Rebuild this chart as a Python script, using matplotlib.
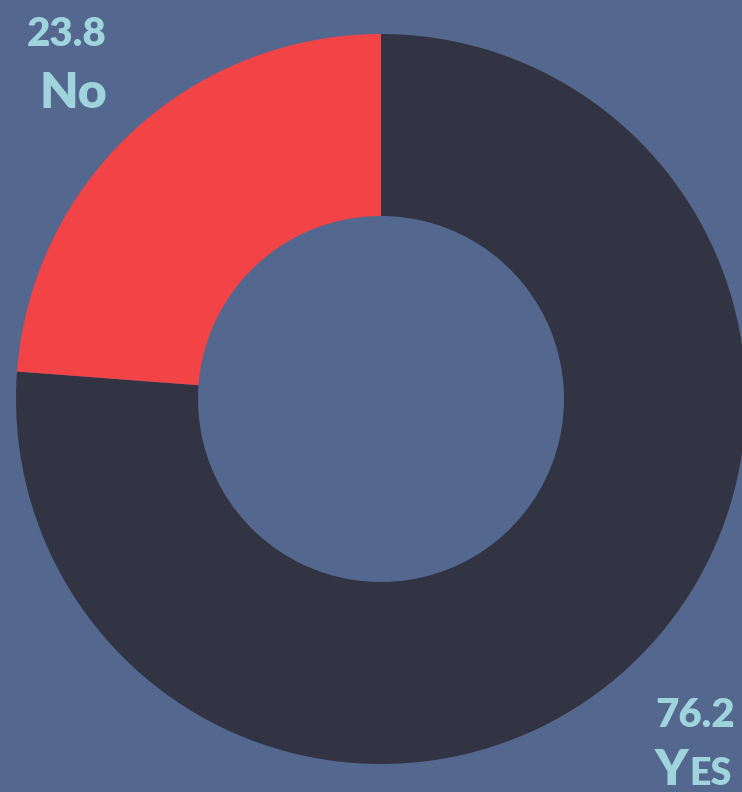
import matplotlib
matplotlib.use("Agg")
import matplotlib.pyplot as plt

# data
labels = ["Yes", "No"]
values = [76.2, 23.8]
colors = ["#323443", "#f24446"]

bg = "#54678f"
txt = "#9fd4dc"

W, H = 742, 792
fig = plt.figure(figsize=(W / 100, H / 100), dpi=100, facecolor=bg)
ax = fig.add_axes([0, 0, 1, 1])
ax.set_facecolor(bg)

ax.pie(values, colors=colors, startangle=90, counterclock=False,
       center=(381, H - 399), radius=365,
       wedgeprops=dict(width=182, linewidth=0), frame=True)
ax.set_xlim(0, W)
ax.set_ylim(0, H)
ax.axis("off")

font = dict(family=["Lato", "DejaVu Sans"], weight="heavy", color=txt)

# No label (top left)
ax.text(107, H - 46, f"{values[1]}", ha="right", va="baseline", fontsize=29, **font)
ax.text(107, H - 108, labels[1], ha="right", va="baseline", fontsize=36, **font)

# Yes label (bottom right), small caps
ax.text(655, H - 727, f"{values[0]}", ha="left", va="baseline", fontsize=29, **font)
t1 = ax.text(655, H - 785, labels[0][0], ha="left", va="baseline", fontsize=36, **font)
fig.canvas.draw()
bb = t1.get_window_extent(renderer=fig.canvas.get_renderer())
ax.text(bb.x1 + 1, H - 785, labels[0][1:].upper(), ha="left", va="baseline",
        fontsize=27, **font)

fig.savefig("out.png", dpi=100, facecolor=bg)
